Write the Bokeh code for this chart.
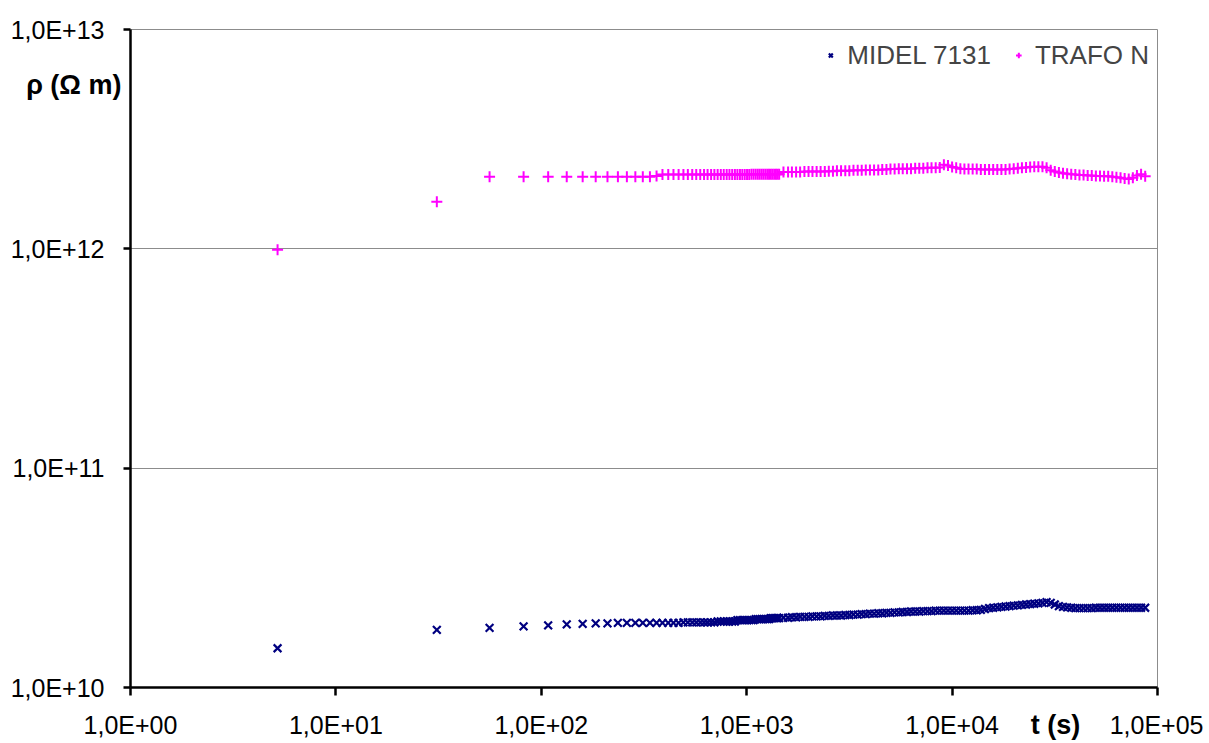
from bokeh.plotting import figure
from bokeh.models import (Range1d, FixedTicker, CustomJSTickFormatter, Legend, LegendItem, LogAxis)
from bokeh.embed import file_html
from bokeh.resources import INLINE

# ---- data -------------------------------------------------------------
# sample times (s)
t_sparse = [5.2, 31, 56, 82, 108, 133, 159, 184, 210, 236,
            261, 287, 312, 338, 364, 389, 415, 440, 466, 492,
            517, 543, 568, 594, 620, 645, 671, 696, 722, 748,
            773, 799, 824, 850, 876, 901, 927, 952, 978, 1004,
            1029, 1055, 1080, 1106, 1132, 1157, 1183, 1208, 1234, 1260,
            1285, 1311, 1336, 1362, 1388, 1413, 1439]
t_dense = [1510, 1590, 1660, 1740, 1820, 1910, 2000, 2090, 2190, 2290,
           2400, 2510, 2630, 2750, 2880, 3020, 3160, 3310, 3470, 3630,
           3800, 3980, 4170, 4370, 4570, 4790, 5010, 5250, 5500, 5750,
           6030, 6310, 6610, 6920, 7240, 7590, 7940, 8320, 8710, 9120,
           9550, 10000, 10470, 10970, 11480, 12020, 12590, 13180, 13800, 14450,
           15140, 15850, 16600, 17380, 18200, 19050, 19950, 20890, 21880, 22910,
           23990, 25120, 26300, 27540, 28840, 30200, 31620, 33110, 34670, 36310,
           38020, 39810, 41690, 43650, 45710, 47860, 50120, 52480, 54950, 57540,
           60260, 63100, 66070, 69180, 72440, 75860, 79430, 83180, 87100]

# MIDEL 7131 resistivity, in units of 1e10 Ohm m
midel_sparse = [1.51, 1.83, 1.87, 1.90, 1.92, 1.94, 1.95, 1.96, 1.96, 1.97,
                1.97, 1.97, 1.97, 1.97, 1.97, 1.97, 1.97, 1.97, 1.97, 1.98,
                1.98, 1.98, 1.98, 1.98, 1.98, 1.98, 1.98, 1.98, 2.00, 2.00,
                2.00, 2.00, 2.00, 2.00, 2.00, 2.03, 2.03, 2.03, 2.03, 2.03,
                2.03, 2.03, 2.03, 2.05, 2.05, 2.05, 2.05, 2.05, 2.05, 2.05,
                2.05, 2.07, 2.07, 2.07, 2.07, 2.07, 2.07]
midel_dense = [2.08, 2.08, 2.09, 2.09, 2.10, 2.10, 2.10, 2.11, 2.11, 2.11,
               2.12, 2.12, 2.13, 2.13, 2.13, 2.14, 2.14, 2.15, 2.15, 2.16,
               2.16, 2.17, 2.17, 2.18, 2.18, 2.19, 2.19, 2.20, 2.20, 2.21,
               2.21, 2.22, 2.22, 2.22, 2.23, 2.23, 2.23, 2.24, 2.24, 2.24,
               2.24, 2.24, 2.24, 2.24, 2.24, 2.24, 2.25, 2.25, 2.26, 2.28,
               2.30, 2.31, 2.32, 2.33, 2.34, 2.35, 2.36, 2.37, 2.38, 2.39,
               2.40, 2.41, 2.42, 2.43, 2.45, 2.43, 2.39, 2.35, 2.33, 2.32,
               2.31, 2.30, 2.30, 2.30, 2.30, 2.30, 2.31, 2.31, 2.31, 2.31,
               2.31, 2.31, 2.31, 2.31, 2.31, 2.31, 2.31, 2.31, 2.31]

# TRAFO N resistivity, in units of 1e12 Ohm m
trafo_sparse = [0.99, 1.64, 2.13, 2.13, 2.13, 2.13, 2.13, 2.13, 2.13, 2.13,
                2.13, 2.13, 2.13, 2.13, 2.15, 2.18, 2.18, 2.18, 2.18, 2.18,
                2.18, 2.18, 2.18, 2.18, 2.18, 2.18, 2.18, 2.18, 2.18, 2.18,
                2.18, 2.18, 2.18, 2.18, 2.18, 2.18, 2.18, 2.18, 2.18, 2.18,
                2.18, 2.19, 2.19, 2.19, 2.19, 2.19, 2.19, 2.19, 2.19, 2.19,
                2.19, 2.19, 2.19, 2.19, 2.19, 2.19, 2.19]
trafo_dense = [2.24, 2.24, 2.24, 2.24, 2.24, 2.25, 2.25, 2.25, 2.25, 2.25,
               2.25, 2.26, 2.26, 2.27, 2.27, 2.27, 2.27, 2.28, 2.28, 2.28,
               2.29, 2.29, 2.29, 2.29, 2.30, 2.30, 2.31, 2.31, 2.32, 2.32,
               2.32, 2.32, 2.33, 2.33, 2.33, 2.34, 2.34, 2.34, 2.35, 2.42,
               2.40, 2.36, 2.34, 2.32, 2.31, 2.31, 2.31, 2.31, 2.30, 2.30,
               2.30, 2.30, 2.30, 2.30, 2.30, 2.31, 2.32, 2.33, 2.34, 2.35,
               2.36, 2.37, 2.37, 2.37, 2.34, 2.28, 2.25, 2.23, 2.21, 2.20,
               2.19, 2.18, 2.17, 2.17, 2.16, 2.16, 2.15, 2.15, 2.14, 2.14,
               2.13, 2.12, 2.11, 2.09, 2.08, 2.11, 2.16, 2.19, 2.14]

y_ticks = [1e10, 1e11, 1e12, 1e13]
x_ticks = [1e0, 1e1, 1e2, 1e3, 1e4, 1e5]
y_title = "ρ (Ω m)"
x_title = "t (s)"

t_all = t_sparse + t_dense
midel = [v * 1e10 for v in midel_sparse + midel_dense]
trafo = [v * 1e12 for v in trafo_sparse + trafo_dense]

FONT = "Liberation Sans"

p = figure(width=1203, height=743, x_axis_type="log", y_axis_type="log",
           x_range=Range1d(1, 1e5), y_range=Range1d(1e10, 1e13),
           output_backend="svg", toolbar_location=None,
           min_border_left=130, min_border_right=46,
           min_border_top=29, min_border_bottom=56)
p.background_fill_color = "white"
p.border_fill_color = "white"
p.outline_line_color = "#8c8c8c"
p.outline_line_width = 1

p.xgrid.visible = False
p.ygrid.grid_line_color = "#8c8c8c"
p.ygrid.grid_line_width = 1

fmt = CustomJSTickFormatter(code="""
const e = Math.round(Math.log10(tick));
const s = e < 0 ? "-" : "+";
return "1,0E" + s + String(Math.abs(e)).padStart(2, "0");
""")

for ax in (p.xaxis[0], p.yaxis[0]):
    ax.formatter = fmt
    ax.axis_line_color = "black"
    ax.axis_line_width = 2.5
    ax.major_tick_line_color = "black"
    ax.major_tick_line_width = 2.5
    ax.major_tick_in = 0
    ax.minor_tick_line_color = None
    ax.major_label_text_font = FONT
    ax.major_label_text_font_size = "25px"
    ax.major_label_text_color = "black"

p.xaxis[0].ticker = FixedTicker(ticks=x_ticks)
p.yaxis[0].ticker = FixedTicker(ticks=y_ticks)
p.xaxis[0].major_tick_out = 8
p.yaxis[0].major_tick_out = 7
p.xaxis[0].major_label_standoff = 15
p.yaxis[0].major_label_standoff = 19


def title_axis(text, tick_pos, standoff, side):
    # an extra, line-less axis stacked outside the main one, carrying one bold label
    ax = LogAxis(ticker=FixedTicker(ticks=[tick_pos]),
                 formatter=CustomJSTickFormatter(args=dict(txt=text), code="return txt;"),
                 axis_line_color=None, major_tick_line_color=None,
                 minor_tick_line_color=None, major_tick_in=0, major_tick_out=0,
                 major_label_standoff=standoff,
                 major_label_text_font=FONT, major_label_text_font_style="bold",
                 major_label_text_font_size="27px", major_label_text_color="black")
    p.add_layout(ax, side)
    return ax


NBSP = "\u00a0"
# y title: in the left margin, just under the top tick label
title_axis(NBSP * 2 + y_title, 5.6e12, -114, "left")
# x title: on the row of the x tick labels, left of 1,0E+05
title_axis(x_title, 31900, -32, "below")

r1 = p.scatter(t_all, midel, marker="x", size=11, line_color="#000080", line_width=2.2)
r2 = p.scatter(t_all, trafo, marker="cross", size=11, line_color="#FF00FF", line_width=2)

legend = Legend(items=[LegendItem(label="MIDEL 7131", renderers=[r1]),
                       LegendItem(label="TRAFO N", renderers=[r2])],
                orientation="horizontal", location="top_right",
                border_line_color=None, background_fill_alpha=0,
                label_text_font=FONT, label_text_font_size="26px",
                glyph_width=14, glyph_height=36, spacing=20,
                label_standoff=10, margin=8, padding=12)
p.add_layout(legend)

open("out.html", "w").write(file_html(p, INLINE))
